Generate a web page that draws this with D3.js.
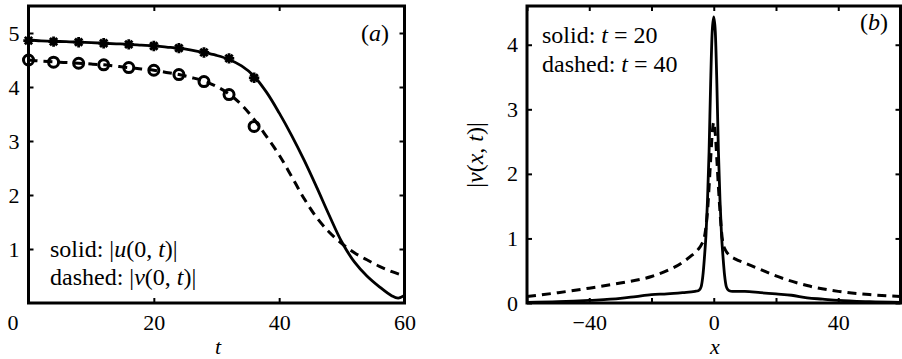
<!DOCTYPE html>
<html><head><meta charset="utf-8">
<script src="https://cdn.jsdelivr.net/npm/d3@7"></script>
<style>
body{margin:0;background:#fff}
svg{display:block}
</style>
</head><body>
<svg id="chart" width="902" height="359"></svg>
<script>
// ---------- Panel (a) data ----------
const tA = [0,2,4,6,8,10,12,14,16,18,20,22,24,26,28,30,32,34,36,38,40,42,44,46,48,50,52,54,56,58,59,60];
const uA = [4.87,4.855,4.845,4.84,4.83,4.82,4.81,4.80,4.79,4.775,4.76,4.74,4.72,4.685,4.64,4.585,4.51,4.39,4.20,3.90,3.52,3.10,2.64,2.14,1.62,1.13,0.76,0.50,0.30,0.13,0.09,0.14];
const tV = [0,2,4,6,8,10,12,14,16,18,20,22,24,26,28,30,32,34,36,38,40,42,44,46,48,50,52,54,56,58,60];
const vA = [4.50,4.48,4.465,4.455,4.44,4.425,4.41,4.385,4.36,4.335,4.31,4.27,4.23,4.175,4.11,4.01,3.87,3.67,3.40,3.08,2.74,2.34,1.93,1.58,1.31,1.10,0.93,0.80,0.68,0.58,0.50];
const tMarks = [0,4,8,12,16,20,24,28,32,36];
const starVals = [4.86,4.84,4.83,4.81,4.79,4.76,4.72,4.64,4.53,4.17];
const circVals = [4.50,4.46,4.44,4.41,4.36,4.31,4.23,4.10,3.86,3.27];
const xTicksA = [0,20,40,60];
const yTicksA = [1,2,3,4,5];

// ---------- Panel (b) data ----------
const x20 = [-60,-50,-40,-30,-25,-20,-15,-10,-6,-5,-4.5,-4,-3.5,-3,-2.5,-2,-1.5,-1,-0.5,0,0.5,1,1.5,2,2.5,3,3.5,4,4.5,5,6,10,15,20,25,30,35,40,50,60];
const v20 = [0.01,0.02,0.04,0.07,0.10,0.13,0.14,0.16,0.18,0.19,0.21,0.26,0.42,0.70,1.05,1.60,2.35,3.40,4.20,4.43,4.20,3.40,2.35,1.60,1.05,0.70,0.42,0.26,0.21,0.19,0.18,0.18,0.16,0.14,0.12,0.08,0.06,0.04,0.02,0.01];
const x40 = [-60,-50,-40,-30,-20,-15,-10,-7,-5,-4,-3,-2.5,-2,-1.5,-1,-0.5,0,0.5,1,1.5,2,2.5,3,4,5,7,10,15,20,30,40,50,60];
const v40 = [0.10,0.16,0.23,0.31,0.41,0.50,0.63,0.74,0.83,0.90,1.02,1.18,1.42,1.80,2.22,2.62,2.80,2.62,2.22,1.80,1.42,1.10,0.92,0.80,0.74,0.68,0.62,0.52,0.42,0.27,0.18,0.13,0.10];
const xTicksB = [-60,-40,-20,0,20,40,60];
const xLabelsB = [-40,0,40];
const yTicksB = [0,1,2,3,4];

const FONT = "Liberation Serif";
const svg = d3.select("#chart");
const TICK_FS = 22, TXT_FS = 24;

const xA = d3.scaleLinear().domain([0,60]).range([28.5,404.5]);
const yA = d3.scaleLinear().domain([0,5.5]).range([303,6]);
const xB = d3.scaleLinear().domain([-60,60]).range([527,900.5]);
const yB = d3.scaleLinear().domain([0,4.6]).range([303,6]);

function drawAxes(x, y, xt, xlab, yt, ylab) {
  const g = svg.append("g");
  const [x0,x1] = x.range(), [y0,y1] = y.range();
  const fmt = d3.format("");
  const bottom = g.append("g").attr("transform",`translate(0,${y0})`)
    .call(d3.axisBottom(x).tickValues(xt).tickSize(-5).tickFormat(d => xlab.includes(d) ? fmt(d) : ""));
  bottom.selectAll("text").attr("y", 26.5).attr("dy", 0);
  g.append("g").attr("transform",`translate(0,${y1})`)
    .call(d3.axisTop(x).tickValues(xt).tickSize(-5).tickFormat(""));
  g.append("g").attr("transform",`translate(${x0},0)`)
    .call(d3.axisLeft(y).tickValues(yt).tickSize(-5).tickPadding(9).tickFormat(d => ylab.includes(d) ? fmt(d) : ""));
  g.append("g").attr("transform",`translate(${x1},0)`)
    .call(d3.axisRight(y).tickValues(yt).tickSize(-5).tickFormat(""));
  g.selectAll(".domain").remove();
  g.selectAll("g").attr("font-family", FONT).attr("font-size", TICK_FS);
  g.selectAll(".tick line").attr("stroke","#000").attr("stroke-width",2);
  g.selectAll("text").attr("font-size",TICK_FS).attr("font-family",FONT).attr("fill","#000");
  g.append("rect").attr("x",x0).attr("y",y1).attr("width",x1-x0).attr("height",y0-y1)
    .attr("fill","none").attr("stroke","#000").attr("stroke-width",3);
  return {bottom};
}

// ---------- Panel (a) ----------
const axA = drawAxes(xA, yA, xTicksA, xTicksA, yTicksA, yTicksA);
axA.bottom.selectAll(".tick").filter(d => d === 0).select("text").attr("x", -16);

const lineA = d3.line().curve(d3.curveCatmullRom.alpha(0.5));
svg.append("path").attr("d", lineA(tV.map((t,i)=>[xA(t), yA(vA[i])])))
  .attr("fill","none").attr("stroke","#000").attr("stroke-width",3).attr("stroke-dasharray","9,6");
svg.append("path").attr("d", lineA(tA.map((t,i)=>[xA(t), yA(uA[i])])))
  .attr("fill","none").attr("stroke","#000").attr("stroke-width",2.8);

const r = 5.2, a = r*0.7071;
const starPath = `M${-r},0L${r},0M0,${-r}L0,${r}M${-a},${-a}L${a},${a}M${-a},${a}L${a},${-a}`;
svg.append("g").selectAll("path").data(tMarks).join("path")
  .attr("transform",(t,i)=>`translate(${xA(t)},${yA(starVals[i])})`)
  .attr("d", starPath).attr("fill","none").attr("stroke","#000").attr("stroke-width",2.8);
svg.append("g").selectAll("circle").data(tMarks).join("circle")
  .attr("cx", t => xA(t)).attr("cy",(t,i)=>yA(circVals[i])).attr("r",5)
  .attr("fill","none").attr("stroke","#000").attr("stroke-width",3);

function mathText(x, y, parts, anchor, fs) {
  const t = svg.append("text").attr("x",x).attr("y",y).attr("font-size",fs || TXT_FS)
    .attr("font-family", FONT).attr("fill","#000").attr("text-anchor", anchor || "start").style("white-space","pre");
  parts.forEach(p => t.append("tspan").attr("font-family", FONT).attr("font-style", p[1] ? "italic" : "normal").text(p[0]));
  return t;
}
mathText(50, 257, [["solid: |",0],["u",1],["(0, ",0],["t",1],[")|",0]]);
mathText(50, 285, [["dashed: |",0],["v",1],["(0, ",0],["t",1],[")|",0]]);
mathText(389, 41, [["(",0],["a",1],[")",0]], "end");
mathText(218, 354, [["t",1]], "middle", 22);

// ---------- Panel (b) ----------
drawAxes(xB, yB, xTicksB, xLabelsB, yTicksB, yTicksB);
const lineB = d3.line().curve(d3.curveMonotoneX);
svg.append("path").attr("d", lineB(x40.map((x,i)=>[xB(x), yB(v40[i])])))
  .attr("fill","none").attr("stroke","#000").attr("stroke-width",3).attr("stroke-dasharray","9,6");
svg.append("path").attr("d", lineB(x20.map((x,i)=>[xB(x), yB(v20[i])])))
  .attr("fill","none").attr("stroke","#000").attr("stroke-width",2.8);

mathText(542, 43, [["solid: ",0],["t",1],[" = 20",0]]);
mathText(542, 72, [["dashed: ",0],["t",1],[" = 40",0]]);
mathText(888, 30, [["(",0],["b",1],[")",0]], "end");
mathText(715, 354, [["x",1]], "middle", 22);
mathText(0, 0, [["|",0],["v",1],["(",0],["x",1],[", ",0],["t",1],[")|",0]], "middle")
  .attr("transform","translate(483,155) rotate(-90)");
</script>
</body></html>
